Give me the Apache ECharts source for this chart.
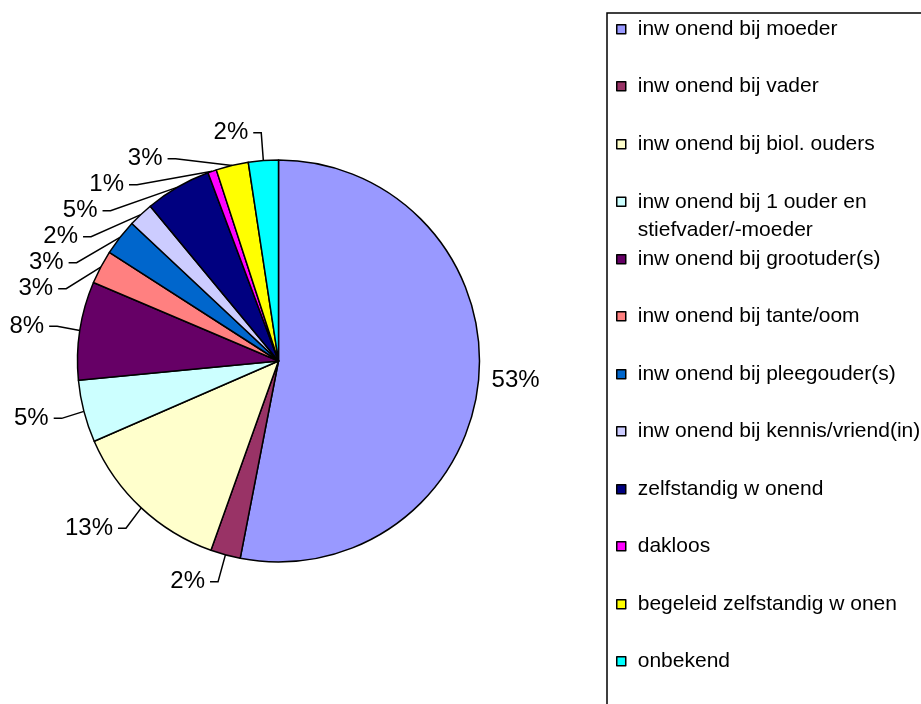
<!DOCTYPE html>
<html>
<head>
<meta charset="utf-8">
<script src="https://cdn.jsdelivr.net/npm/echarts@6/dist/echarts.min.js"></script>
<style>
html,body{margin:0;padding:0;background:#fff;}
#chart{width:921px;height:704px;}
</style>
</head>
<body>
<div id="chart"></div>
<script>
const categories = [
  "inw onend bij moeder",
  "inw onend bij vader",
  "inw onend bij biol. ouders",
  "inw onend bij 1 ouder en\nstiefvader/-moeder",
  "inw onend bij grootuder(s)",
  "inw onend bij tante/oom",
  "inw onend bij pleegouder(s)",
  "inw onend bij kennis/vriend(in)",
  "zelfstandig w onend",
  "dakloos",
  "begeleid zelfstandig w onen",
  "onbekend"
];
const values = [53.0, 2.4, 13.0, 5.0, 7.9, 2.7, 2.9, 2.0, 5.3, 0.7, 2.6, 2.4];
const colors = ["#9999FF","#993366","#FFFFCC","#CCFFFF","#660066","#FF8080","#0066CC","#CCCCFF","#000080","#FF00FF","#FFFF00","#00FFFF"];

const total = values.reduce((a, b) => a + b, 0);
const LH = 28.5;

const data = categories.map((name, i) => {
  const d = { name: name, value: values[i], itemStyle: { color: colors[i] } };
  if (i === 0) {
    d.labelLine = { show: false, length: 4, length2: 4 };
  }
  return d;
});

const legends = categories.map((name, i) => {
  const multi = name.indexOf("\n") >= 0;
  const center = 29 + 57.5 * i;
  return {
    data: [name],
    orient: 'vertical',
    left: 616,
    top: Math.round(center - (multi ? LH * 1.5 : LH / 2)),
    padding: 0,
    itemWidth: 9,
    itemHeight: 9,
    icon: 'rect',
    itemStyle: { borderColor: '#000', borderWidth: 1.5 },
    selectedMode: false,
    formatter: n => (n.indexOf("\n") >= 0 ? "\n" + n : n),
    textStyle: {
      fontFamily: 'Liberation Sans, Arial, sans-serif',
      fontSize: 21,
      color: '#000',
      lineHeight: LH,
      padding: [0, 0, 0, 7]
    }
  };
});

const chart = echarts.init(document.getElementById('chart'), null, { renderer: 'canvas' });
chart.setOption({
  backgroundColor: '#fff',
  animation: false,
  legend: legends,
  graphic: [{
    type: 'rect',
    shape: { x: 607, y: 13, width: 400, height: 800 },
    style: { fill: 'none', stroke: '#000', lineWidth: 1.5 },
    z: 100,
    silent: true
  }],
  series: [{
    type: 'pie',
    center: [278.5, 361],
    radius: [0, 201],
    startAngle: 90,
    clockwise: true,
    data: data,
    itemStyle: { borderColor: '#000', borderWidth: 1.5 },
    label: {
      show: true,
      position: 'outside',
      bleedMargin: 2,
      overflow: 'none',
      fontFamily: 'Liberation Sans, Arial, sans-serif',
      fontSize: 24,
      color: '#000',
      formatter: p => Math.round(p.value / total * 100) + '%'
    },
    labelLine: {
      show: true,
      length: 28,
      length2: 8,
      lineStyle: { color: '#000', width: 1.5 }
    },
    emphasis: { disabled: true }
  }]
});
</script>
</body>
</html>
